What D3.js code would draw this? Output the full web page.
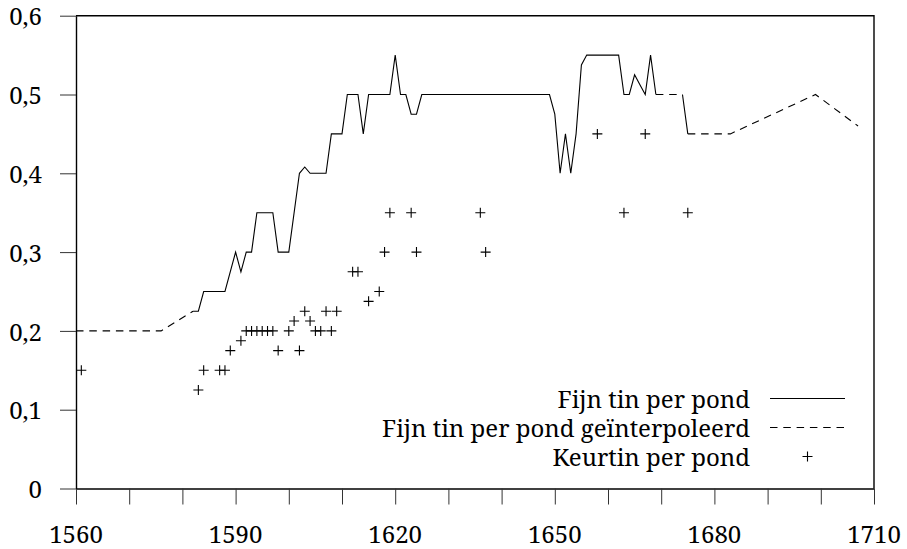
<!DOCTYPE html>
<html>
<head>
<meta charset="utf-8">
<script src="https://cdn.jsdelivr.net/npm/d3@7"></script>
<style>
  html, body { margin: 0; padding: 0; background: #fff; }
  svg { display: block; }
  svg text { font-family: "Noto Serif", "Liberation Serif", serif; fill: #000; }
</style>
</head>
<body>
<svg id="chart" width="907" height="549"></svg>
<script>
// Fine tin price per pound (guilders), yearly observations; null marks a gap in the record
const fineTinYears  = [1582, 1583, 1584, 1588, 1590, 1591, 1592, 1593, 1594, 1597, 1598, 1600,
                       1602, 1603, 1604, 1607, 1608, 1610, 1611, 1613, 1614, 1615, 1619, 1620,
                       1621, 1622, 1623, 1624, 1625, 1649, 1650, 1651, 1652, 1653, 1654, 1655,
                       1656, 1662, 1663, 1664, 1665, 1666, 1667, 1668, 1669, 1670, 1674, 1675];
const fineTinValues = [0.225, 0.225, 0.25, 0.25, 0.3, 0.275, 0.3, 0.3, 0.35, 0.35, 0.3, 0.3,
                       0.4, 0.408, 0.4, 0.4, 0.45, 0.45, 0.5, 0.5, 0.45, 0.5, 0.5, 0.55,
                       0.5, 0.5, 0.475, 0.475, 0.5, 0.5, 0.475, 0.4, 0.45, 0.4, 0.45, 0.5375,
                       0.55, 0.55, 0.5, 0.5, 0.525, 0.5125, 0.5, 0.55, 0.5, null, 0.5, 0.45];

// Interpolated stretches where no yearly fine tin price is recorded
const interpSegmentYears  = [[1560, 1576, 1582], [1669, 1674], [1675, 1683, 1699, 1707]];
const interpSegmentValues = [[0.2, 0.2, 0.225], [0.5, 0.5], [0.45, 0.45, 0.5, 0.46]];

// Keurtin (assay tin) price per pound
const keurtinYears  = [1561, 1583, 1584, 1587, 1588, 1589, 1591, 1592, 1593, 1594, 1595, 1596,
                       1597, 1598, 1600, 1601, 1602, 1603, 1604, 1605, 1606, 1607, 1608, 1609,
                       1612, 1613, 1615, 1617, 1618, 1619, 1623, 1624, 1636, 1637, 1658, 1663,
                       1667, 1675];
const keurtinValues = [0.15, 0.125, 0.15, 0.15, 0.15, 0.175, 0.1875, 0.2, 0.2, 0.2, 0.2, 0.2,
                       0.2, 0.175, 0.2, 0.2125, 0.175, 0.225, 0.2125, 0.2, 0.2, 0.225, 0.2, 0.225,
                       0.275, 0.275, 0.2375, 0.25, 0.3, 0.35, 0.35, 0.3, 0.35, 0.3, 0.45, 0.35,
                       0.45, 0.35];

// Axis ticks and labels
const xTickYears  = [1560, 1570, 1580, 1590, 1600, 1610, 1620, 1630, 1640, 1650, 1660, 1670, 1680, 1690, 1700, 1710];
const xLabelYears = [1560, 1590, 1620, 1650, 1680, 1710];
const yTickValues = [0, 0.1, 0.2, 0.3, 0.4, 0.5, 0.6];

const legendLabels = ["Fijn tin per pond", "Fijn tin per pond geïnterpoleerd", "Keurtin per pond"];

const svg = d3.select("#chart");
const plot = { left: 76, right: 874, top: 15.7, bottom: 488.5 };
const serif = "'Noto Serif', 'Liberation Serif', serif";
const fontSize = 24;

const x = d3.scaleLinear().domain([1560, 1710]).range([plot.left, plot.right]);
const y = d3.scaleLinear().domain([0, 0.6]).range([plot.bottom, plot.top]);

const nl = d3.formatLocale({ decimal: ",", thousands: ".", grouping: [3], currency: ["", ""] });
const yFmt = nl.format(".1~f");

// Frame (top and right edges)
svg.append("path")
  .attr("d", `M${plot.left},${plot.top}H${plot.right}V${plot.bottom}`)
  .attr("fill", "none").attr("stroke", "#000").attr("stroke-width", 1.4);

// X axis
const xAxis = d3.axisBottom(x).tickValues(xTickYears).tickSize(16).tickSizeOuter(0).tickFormat("");
const gx = svg.append("g").attr("transform", `translate(0,${plot.bottom})`).call(xAxis);
gx.select(".domain").attr("stroke", "#000").attr("stroke-width", 1.4);
gx.selectAll(".tick line").attr("stroke", "#333").attr("stroke-width", 1);

svg.append("g").selectAll("text").data(xLabelYears).join("text")
  .attr("x", d => x(d)).attr("y", 543)
  .attr("text-anchor", "middle").attr("font-size", fontSize)
  .style("font-family", serif)
  .text(d => d);

// Y axis
const yAxis = d3.axisLeft(y).tickValues(yTickValues).tickSize(16).tickSizeOuter(0).tickPadding(18)
  .tickFormat(d => yFmt(d));
const gy = svg.append("g").attr("transform", `translate(${plot.left},0)`).call(yAxis)
  .attr("font-family", null).attr("font-size", null);
gy.select(".domain").attr("stroke", "#000").attr("stroke-width", 1.4);
gy.selectAll(".tick line").attr("stroke", "#333").attr("stroke-width", 1);
gy.selectAll(".tick text")
  .attr("font-size", fontSize).style("font-family", serif).attr("fill", "#000")
  .attr("dy", "0.38em");

// Interpolated stretches (dashed)
const line = d3.line().defined(d => d[1] != null).x(d => x(d[0])).y(d => y(d[1]));
interpSegmentYears.forEach((yrs, i) => {
  const pts = yrs.map((yr, j) => [yr, interpSegmentValues[i][j]]);
  svg.append("path").datum(pts)
    .attr("d", line)
    .attr("fill", "none").attr("stroke", "#000").attr("stroke-width", 1.1)
    .attr("stroke-dasharray", "7.5,5.8");
});

// Recorded fine tin prices (solid)
const finePts = fineTinYears.map((yr, i) => [yr, fineTinValues[i]]);
svg.append("path").datum(finePts)
  .attr("d", line)
  .attr("fill", "none").attr("stroke", "#000").attr("stroke-width", 1.1)
  .attr("stroke-linejoin", "miter");

// Keurtin markers (+)
const plus = (cx, cy) => `M${cx - 5},${cy}H${cx + 5}M${cx},${cy - 5}V${cy + 5}`;
svg.append("g").selectAll("path").data(keurtinYears.map((yr, i) => [yr, keurtinValues[i]])).join("path")
  .attr("d", d => plus(x(d[0]), y(d[1])))
  .attr("stroke", "#000").attr("stroke-width", 1.1).attr("fill", "none");

// Legend
const legendTextX = 750, legendBase = 408, legendStep = 29;
const lg = svg.append("g");
legendLabels.forEach((lab, i) => {
  lg.append("text")
    .attr("x", legendTextX).attr("y", legendBase + i * legendStep)
    .attr("text-anchor", "end").attr("font-size", fontSize)
    .style("font-family", serif)
    .text(lab);
});
const ly0 = legendBase - 9.5;
lg.append("line").attr("x1", 770).attr("x2", 845).attr("y1", ly0).attr("y2", ly0)
  .attr("stroke", "#000").attr("stroke-width", 1.1);
lg.append("line").attr("x1", 770).attr("x2", 845).attr("y1", ly0 + legendStep).attr("y2", ly0 + legendStep)
  .attr("stroke", "#000").attr("stroke-width", 1.1).attr("stroke-dasharray", "7.5,5.8");
lg.append("path").attr("d", plus(807.5, ly0 + 2 * legendStep))
  .attr("stroke", "#000").attr("stroke-width", 1.1).attr("fill", "none");
</script>
</body>
</html>
